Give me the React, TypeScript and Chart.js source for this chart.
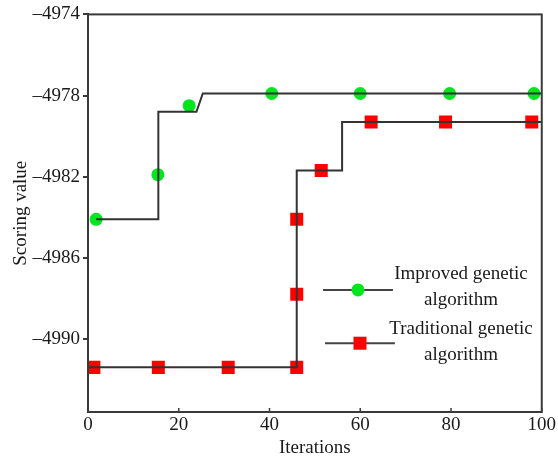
import React, { useEffect, useRef } from "react";
import { Chart, registerables } from "chart.js";

Chart.register(...registerables);

// ---- data ----
const xTicks = [0, 20, 40, 60, 80, 100];
const yTicks = [-4990, -4986, -4982, -4978, -4974];

const improvedLineX = [1.8, 15.5, 15.5, 23.9, 25.3, 100];
const improvedLineY = [-4984.1, -4984.1, -4978.8, -4978.8, -4977.9, -4977.9];
const improvedPtsX = [1.8, 15.4, 22.3, 40.5, 60, 79.7, 98.3];
const improvedPtsY = [-4984.1, -4981.9, -4978.5, -4977.9, -4977.9, -4977.9, -4977.9];

const traditionalLineX = [0, 46, 46, 56, 56, 100];
const traditionalLineY = [-4991.4, -4991.4, -4981.7, -4981.7, -4979.3, -4979.3];
const traditionalPtsX = [1.3, 15.5, 30.9, 46, 46, 46, 51.4, 62.4, 78.8, 97.8];
const traditionalPtsY = [-4991.4, -4991.4, -4991.4, -4991.4, -4987.8, -4984.1, -4981.7, -4979.3, -4979.3, -4979.3];

const seriesNames = [["Improved genetic", "algorithm"], ["Traditional genetic", "algorithm"]];

const toPts = (xs: number[], ys: number[]) => xs.map((x, i) => ({ x, y: ys[i] }));

const FONT = "'Liberation Serif', 'Times New Roman', serif";
const FS = 19;
const LINE = "#333333";
const GREEN = "#00e61e";
const RED = "#ff0000";
const TEXT = "#1a1a1a";

const framePlugin = {
  id: "frame",
  afterDatasetsDraw(chart: any) {
    const { ctx, chartArea: a } = chart;
    ctx.save();
    ctx.strokeStyle = "#3a3a3a";
    ctx.lineWidth = 2;
    ctx.strokeRect(a.left, a.top, a.right - a.left, a.bottom - a.top);
    const xs = chart.scales.x;
    ctx.lineWidth = 1.5;
    xTicks.forEach((v) => {
      const px = xs.getPixelForValue(v);
      ctx.beginPath();
      ctx.moveTo(px, a.bottom);
      ctx.lineTo(px, a.bottom - 4);
      ctx.stroke();
    });
    ctx.restore();
  },
};

const legendPlugin = {
  id: "customLegend",
  afterDraw(chart: any) {
    const { ctx, chartArea: a } = chart;
    const w = a.right - a.left;
    const h = a.bottom - a.top;
    const lineX0 = a.left + w * 0.518;
    const lineX1 = a.left + w * 0.672;
    const textX = a.left + w * 0.822;
    const items = [
      { y: a.top + h * 0.693, color: GREEN, style: "circle", lines: seriesNames[0], ty: [-16, 10] },
      { y: a.top + h * 0.827, color: RED, style: "rect", lines: seriesNames[1], ty: [-14, 12] },
    ];
    ctx.save();
    items.forEach((it, k) => {
      const off = k === 1 ? 2 : 0;
      ctx.strokeStyle = "#444";
      ctx.lineWidth = 2;
      ctx.beginPath();
      ctx.moveTo(lineX0 + off, it.y);
      ctx.lineTo(lineX1 + off, it.y);
      ctx.stroke();
      const mx = (lineX0 + lineX1) / 2 + off;
      ctx.fillStyle = it.color;
      if (it.style === "circle") {
        ctx.beginPath();
        ctx.arc(mx, it.y, 6.5, 0, Math.PI * 2);
        ctx.fill();
      } else {
        ctx.fillRect(mx - 6.5, it.y - 6.5, 13, 13);
      }
      ctx.fillStyle = TEXT;
      ctx.font = `${FS}px ${FONT}`;
      ctx.textAlign = "center";
      ctx.textBaseline = "middle";
      ctx.fillText(it.lines[0], textX, it.y + it.ty[0]);
      ctx.fillText(it.lines[1], textX, it.y + it.ty[1]);
    });
    ctx.restore();
  },
};

export default function App() {
  const ref = useRef<HTMLCanvasElement | null>(null);
  useEffect(() => {
    if (!ref.current) return;
    const chart = new Chart(ref.current, {
      type: "scatter",
      data: {
        datasets: [
          {
            label: "Improved genetic algorithm line",
            data: toPts(improvedLineX, improvedLineY),
            showLine: true,
            borderColor: LINE,
            borderWidth: 2,
            pointRadius: 0,
            fill: false,
          },
          {
            label: "Traditional genetic algorithm line",
            data: toPts(traditionalLineX, traditionalLineY),
            showLine: true,
            borderColor: LINE,
            borderWidth: 2,
            pointRadius: 0,
            fill: false,
          },
          {
            label: "Improved genetic algorithm",
            data: toPts(improvedPtsX, improvedPtsY),
            showLine: false,
            pointStyle: "circle",
            pointRadius: 6.5,
            backgroundColor: GREEN,
            borderColor: GREEN,
            borderWidth: 0,
          },
          {
            label: "Traditional genetic algorithm",
            data: toPts(traditionalPtsX, traditionalPtsY),
            showLine: false,
            pointStyle: "rect",
            pointRadius: 9.2,
            backgroundColor: RED,
            borderColor: RED,
            borderWidth: 0,
          },
        ],
      },
      options: {
        animation: false,
        responsive: true,
        maintainAspectRatio: false,
        layout: { padding: { left: 0, top: 14, right: 13, bottom: 0 } },
        plugins: { legend: { display: false }, tooltip: { enabled: false } },
        scales: {
          x: {
            type: "linear",
            min: 0,
            max: 100,
            afterBuildTicks: (s: any) => {
              s.ticks = xTicks.map((v) => ({ value: v }));
            },
            afterFit: (s: any) => {
              s.height = 47;
            },
            grid: { display: false, drawTicks: false },
            border: { display: true, color: "#3a3a3a", width: 2 },
            ticks: {
              padding: 2,
              color: TEXT,
              font: { family: FONT, size: FS },
              maxRotation: 0,
            },
            title: {
              display: true,
              text: "Iterations",
              color: TEXT,
              font: { family: FONT, size: FS },
              padding: { top: 0, bottom: 0 },
            },
          },
          y: {
            type: "linear",
            min: -4993.6,
            max: -4974,
            afterBuildTicks: (s: any) => {
              s.ticks = yTicks.map((v) => ({ value: v }));
            },
            afterFit: (s: any) => {
              s.width = 88;
            },
            grid: { display: true, drawOnChartArea: false, drawTicks: true, tickLength: 5, color: "#3a3a3a", lineWidth: 2 },
            border: { display: true, color: "#3a3a3a", width: 2 },
            ticks: {
              padding: 3,
              color: TEXT,
              font: { family: FONT, size: FS },
              callback: (v: any) => (Number(v) < 0 ? "\u2013" + Math.abs(Number(v)) : String(v)),
            },
            title: {
              display: true,
              text: "Scoring value",
              color: TEXT,
              font: { family: FONT, size: FS },
              padding: { top: 10, bottom: 0 },
            },
          },
        },
      },
      plugins: [framePlugin, legendPlugin],
    });
    return () => chart.destroy();
  }, []);
  return (
    <div style={{ position: "absolute", left: 0, top: 0, width: 558, height: 459, background: "#fff" }}>
      <canvas ref={ref} />
    </div>
  );
}
